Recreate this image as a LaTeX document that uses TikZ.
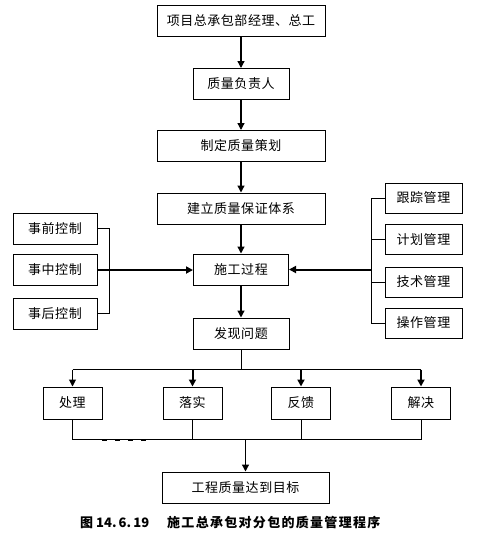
\documentclass[tikz,border=0pt]{standalone}
\usepackage{fontspec}
\setmainfont{Noto Sans CJK SC}
\newfontfamily\boxfont[LetterSpace=4]{Noto Sans CJK SC}
\newfontfamily\capfont[LetterSpace=10]{Noto Sans CJK SC}
\usetikzlibrary{arrows.meta,calc}
\begin{document}
\begin{tikzpicture}[x=1pt,y=-1pt,
  box/.style={draw,line width=1pt,minimum height=31pt,inner sep=0pt,font=\boxfont\fontsize{13}{13}\selectfont},
  thinline/.style={line width=1pt},
  varr/.style={line width=1.3pt,-{Triangle[width=7pt,length=7pt]}},
  tharr/.style={line width=1pt,-{Triangle[width=7pt,length=7pt]}},
  tarr/.style={line width=2pt,-{Triangle[width=7pt,length=7pt]}},
]
\useasboundingbox (0,0) rectangle (481,542);
\fill[white] (0,0) rectangle (481,542);

% main column
\node[box,minimum width=168pt] (top) at (241,20.5) {项目总承包部经理、总工};
\node[box,minimum width=96pt] (fz) at (241,84) {质量负责人};
\node[box,minimum width=168pt] (ch) at (241,146) {制定质量策划};
\node[box,minimum width=168pt] (jl) at (241,208.5) {建立质量保证体系};
\node[box,minimum width=95pt] (sg) at (241,269.5) {施工过程};
\node[box,minimum width=96pt] (fx) at (241,333.5) {发现问题};

% left boxes
\node[box,minimum width=84pt] (l1) at (55,228.5) {事前控制};
\node[box,minimum width=84pt] (l2) at (55,270) {事中控制};
\node[box,minimum width=84pt] (l3) at (55,313.5) {事后控制};

% right boxes
\node[box,minimum width=77pt,minimum height=30pt] (r1) at (423.5,198) {跟踪管理};
\node[box,minimum width=77pt,minimum height=30pt] (r2) at (423.5,239.5) {计划管理};
\node[box,minimum width=77pt,minimum height=30pt] (r3) at (423.5,282) {技术管理};
\node[box,minimum width=77pt,minimum height=30pt] (r4) at (423.5,323) {操作管理};

% bottom row
\node[box,minimum width=59pt,minimum height=32pt] (c1) at (72.5,403) {处理};
\node[box,minimum width=59pt,minimum height=32pt] (c2) at (192.5,403) {落实};
\node[box,minimum width=59pt,minimum height=32pt] (c3) at (301,403) {反馈};
\node[box,minimum width=59pt,minimum height=32pt] (c4) at (421,403) {解决};
\node[box,minimum width=167pt] (goal) at (245.5,487.5) {工程质量达到目标};

% caption
\node[anchor=west,inner sep=0pt,font=\fontsize{13}{13}\selectfont\bfseries] (cap1) at (80,523) {图 14.\,6.\,19};
\node[anchor=west,inner sep=0pt,font=\capfont\fontsize{13}{13}\selectfont\bfseries] (cap2) at (167,523) {施工总承包对分包的质量管理程序};

% vertical flow
\draw[varr] (top) -- (fz);
\draw[varr] (fz) -- (ch);
\draw[varr] (ch) -- (jl);
\draw[varr] (jl) -- (sg);
\draw[varr] (sg) -- (fx);

% left bracket
\draw[thinline] (l1.east) -- ++(12,0) |- (l3.east);
\draw[tarr] (l2.east) -- (l2.east -| sg.west);

% right bracket
\coordinate (rb) at ($(r1.west)+(-13,0)$);
\draw[thinline] (r1.west) -- (rb) |- (r4.west);
\draw[thinline] (r2.west) -- (r2.west -| rb);
\draw[thinline] (r3.west) -- (r3.west -| rb);
\draw[tarr] (rb |- sg.east) -- (sg.east);

% distribution to bottom row
\path (fx.south) ++(0,20) coordinate (j1);
\draw[thinline] (fx.south) -- (j1);
\draw[thinline] (c1.north |- j1) -- (c4.north |- j1);
\draw[tharr] (c1.north |- j1) -- (c1.north);
\draw[tarr] (c2.north |- j1) -- (c2.north);
\draw[tarr] (c3.north |- j1) -- (c3.north);
\draw[tarr] (c4.north |- j1) -- (c4.north);

% collection
\path (c1.south) ++(0,20) coordinate (j2);
\draw[thinline] (c1.south) -- (c1.south |- j2) -- (c4.south |- j2) -- (c4.south);
\draw[thinline] (c2.south) -- (c2.south |- j2);
\draw[thinline] (c3.south) -- (c3.south |- j2);
\draw[varr] (goal.north |- j2) -- (goal.north);
\draw[line width=1.2pt,dash pattern=on 5pt off 8pt] (102,440.5) -- (148,440.5);
\end{tikzpicture}
\end{document}
